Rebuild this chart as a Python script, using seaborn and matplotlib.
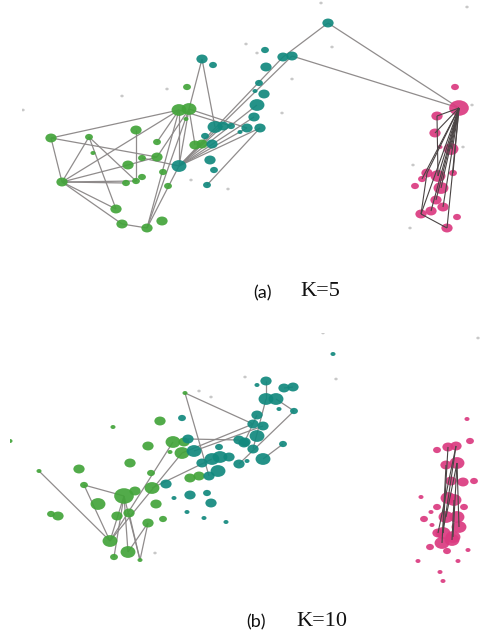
import numpy as np
import pandas as pd
import matplotlib
matplotlib.use("Agg")
import matplotlib.pyplot as plt
import seaborn as sns
from matplotlib.collections import LineCollection
from matplotlib.path import Path
from matplotlib.transforms import Affine2D

sns.set_theme(style="white")

# ---------------- Panel (a): K=5 ----------------
a_x = [179, 189, 187, 136, 51, 89, 195, 202, 157, 128, 62, 93, 126, 136, 142, 163, 168, 116, 122, 147, 162, 157, 142, 186,
       202, 213, 212, 215, 223, 247, 179, 210, 214, 207, 328, 283, 292, 265, 266, 259, 255, 264, 257, 254, 260, 240, 205, 231,
       459, 455, 437, 435, 451, 440, 427, 438, 441, 422, 415, 436, 431, 443, 421, 447, 457, 453,
       23, 167, 122, 191, 228, 246, 257, 292, 282, 332, 413, 410, 472, 463, 467, 321]
a_y = [110, 109, 87, 130, 138, 137, 145, 144, 157, 165, 182, 153, 183, 181, 177, 172, 186, 209, 224, 228, 221, 142, 158, 119,
       59, 65, 144, 127, 126, 128, 166, 160, 170, 185, 23, 57, 56, 50, 67, 83, 91, 94, 105, 117, 128, 132, 136, 126,
       108, 87, 116, 133, 149, 147, 173, 176, 188, 179, 186, 200, 211, 207, 214, 228, 217, 173,
       110, 89, 96, 180, 189, 44, 53, 79, 113, 47, 165, 228, 105, 147, 7, 3]
a_grp = (["g"] * 24 + ["t"] * 24 + ["m"] * 18 + ["n"] * 16)
a_w = [4, 4, 2, 3, 3, 2, 3, 3, 3, 3, 3, 1, 2, 2, 2, 2, 2, 3, 3, 3, 3, 2, 2, 1,
       3, 2, 3, 4, 3, 3, 4, 3, 2, 2, 3, 3, 3, 2, 3, 2, 1, 3, 4, 3, 3, 1, 2, 2,
       5, 2, 3, 3, 4, 1, 3, 4, 4, 2, 2, 3, 3, 3, 3, 3, 2, 2,
       0, 0, 0, 0, 0, 0, 0, 0, 0, 0, 0, 0, 0, 0, 0, 0]
a_src = [24, 24, 4, 4, 4, 5, 5, 5, 10, 10, 10, 10, 10, 10, 18, 19, 19, 19, 0, 1, 1, 1, 0,
         30, 30, 30, 30, 30, 30, 30, 33, 35, 34, 36, 0, 1, 8, 3, 22]
a_dst = [1, 27, 0, 10, 8, 10, 17, 13, 0, 12, 13, 17, 18, 9, 19, 0, 30, 1, 30, 30, 6, 29, 47,
         35, 36, 42, 44, 43, 29, 28, 44, 34, 48, 48, 21, 8, 9, 13, 30]
a_msrc = [48] * 13 + [62, 54, 50]
a_mdst = [50, 51, 52, 54, 55, 56, 59, 60, 61, 62, 63, 57, 65, 63, 62, 55]

# ---------------- Panel (b): K=10 ----------------
b_x = [185, 160, 113, 10, 148, 173, 184, 182, 130, 151, 79, 39, 84, 124, 135, 152, 190, 199, 98, 117, 129, 156, 163, 148, 51, 58, 110, 128, 114, 140, 170,
       182, 188, 194, 202, 212, 220, 229, 218, 209, 219, 239, 245, 239, 247, 166, 190, 207, 211, 174, 187, 204, 226,
       333, 266, 257, 284, 293, 266, 276, 279, 294, 257, 253, 263, 257, 283, 253, 263, 244,
       448, 456, 437, 467, 470, 446, 457, 451, 463, 474, 448, 454, 437, 464, 424, 446, 457, 432, 459, 443, 453, 438,
       430, 447, 442, 452, 421, 431, 468, 418, 458, 440, 443,
       199, 211, 323, 336, 155, 245, 478]
b_y = [393, 421, 427, 441, 446, 442, 442, 453, 463, 473, 469, 471, 485, 496, 491, 488, 478, 476, 504, 516, 513, 504, 519, 523, 514, 516, 541, 552, 557, 560, 452,
       418, 439, 451, 463, 459, 457, 457, 471, 476, 447, 440, 442, 464, 461, 484, 495, 493, 503, 498, 512, 518, 522,
       354, 381, 385, 388, 387, 399, 399, 409, 411, 415, 424, 426, 436, 444, 449, 459, 443,
       447, 446, 450, 419, 441, 465, 463, 481, 482, 481, 498, 500, 507, 507, 519, 517, 517, 525, 527, 533, 537, 533,
       547, 551, 543, 540, 497, 512, 550, 561, 561, 572, 581,
       391, 397, 333, 379, 553, 377, 338]
b_grp = (["g"] * 31 + ["t"] * 39 + ["m"] * 33 + ["n"] * 7)
b_w = [1, 3, 1, 1, 3, 4, 3, 4, 3, 2, 3, 1, 2, 5, 3, 4, 3, 3, 4, 3, 3, 3, 2, 3, 2, 3, 4, 4, 2, 1, 1,
       2, 3, 4, 3, 4, 4, 3, 4, 3, 2, 3, 3, 3, 1, 3, 3, 2, 3, 1, 1, 1, 1,
       1, 3, 1, 3, 3, 4, 4, 1, 2, 3, 3, 3, 4, 2, 3, 4, 3,
       3, 3, 2, 1, 2, 3, 4, 3, 3, 2, 4, 4, 2, 2, 2, 4, 4, 1, 4, 4, 4, 3,
       2, 2, 4, 4, 1, 1, 1, 1, 1, 1, 1,
       0, 0, 0, 0, 0, 0, 0]
b_src = [0, 0, 32, 33, 11, 12, 12, 13, 13, 13, 13, 23, 23, 20, 26, 26, 15, 7, 59, 61, 58, 57, 54, 62, 66]
b_dst = [63, 39, 41, 64, 26, 13, 26, 26, 28, 27, 29, 29, 27, 29, 7, 5, 35, 63, 61, 43, 67, 56, 58, 69, 68]
b_msrc = [71, 71, 76, 76, 75, 70, 81, 88]
b_mdst = [89, 91, 85, 90, 94, 89, 95, 76]

PALETTE = {"g": "#43a43a", "t": "#12897e", "m": "#db3a80", "n": "#c4c4c4"}
SIZES = {0: 6, 1: 13, 2: 32, 3: 66, 4: 115, 5: 200}
ELLIPSE = Path.unit_circle().transformed(Affine2D().scale(1.2, 0.95))

W, H = 482, 634
fig = plt.figure(figsize=(W / 100, H / 100), dpi=100)


def panel(box, xs, ys, grp, w, src, dst, msrc, mdst):
    x0, y0, x1, y1 = box
    ax = fig.add_axes([x0 / W, 1 - y1 / H, (x1 - x0) / W, (y1 - y0) / H])
    ax.set_facecolor("#fafcfc")
    df = pd.DataFrame({"x": xs, "y": ys, "grp": grp, "w": w})
    segs = [[(xs[s], ys[s]), (xs[d0], ys[d0])] for s, d0 in zip(src, dst)]
    ax.add_collection(LineCollection(segs, colors="#8a8686", linewidths=0.9, alpha=0.95, zorder=1))
    msegs = [[(xs[s], ys[s]), (xs[d0], ys[d0])] for s, d0 in zip(msrc, mdst)]
    ax.add_collection(LineCollection(msegs, colors="#4a4444", linewidths=0.8, zorder=3))
    sns.scatterplot(data=df, x="x", y="y", hue="grp", size="w", palette=PALETTE, sizes=SIZES,
                    marker=ELLIPSE, linewidth=0, alpha=0.92, legend=False, ax=ax, zorder=2)
    ax.set_xlim(x0, x1)
    ax.set_ylim(y1, y0)
    ax.set_axis_off()
    ax.patch.set_visible(True)
    return ax


panel((22, 0, 482, 272), a_x, a_y, a_grp, a_w, a_src, a_dst, a_msrc, a_mdst)
panel((10, 333, 482, 590), b_x, b_y, b_grp, b_w, b_src, b_dst, b_msrc, b_mdst)

cap_lab = ["(a)", "(b)"]
cap_k = ["K=5", "K=10"]
cap_y = [293, 622]
cap_lx = [262, 256]
cap_kx = [320, 322]
for lab, k, yy, lx, kx in zip(cap_lab, cap_k, cap_y, cap_lx, cap_kx):
    fig.text(lx / W, 1 - yy / H, lab, ha="center", va="center",
             fontsize=13, family=["Lato", "DejaVu Sans"], color="#111111")
    fig.text(kx / W, 1 - (yy - 1) / H, k, ha="center", va="center",
             fontsize=16, family=["Liberation Serif", "DejaVu Serif"], color="#111111")

fig.savefig("out.png", dpi=100, facecolor="white")
